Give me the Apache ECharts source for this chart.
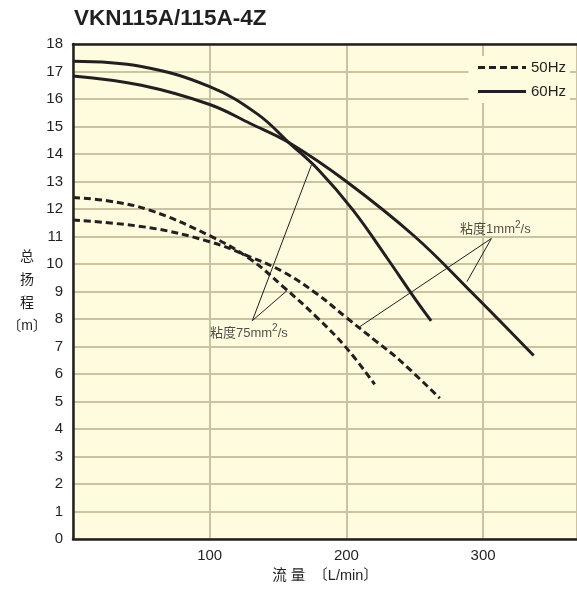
<!DOCTYPE html>
<html>
<head>
<meta charset="utf-8">
<script src="https://cdn.jsdelivr.net/npm/echarts@6/dist/echarts.min.js"></script>
<style>
html,body{margin:0;padding:0;background:#fff;overflow:hidden;}
#c{width:577px;height:591px;}
</style>
</head>
<body>
<div id="c"></div>
<script>
// ---- data ----
const title = 'VKN115A/115A-4Z';
const xTicks = [100, 200, 300];
const yTicks = [0,1,2,3,4,5,6,7,8,9,10,11,12,13,14,15,16,17,18];

// 60Hz, viscosity 75 mm2/s (steeper)
const q60v75 = [0, 50, 100, 135, 158.5, 180, 205, 230, 250, 262];
const h60v75 = [17.37, 17.18, 16.45, 15.45, 14.39, 13.4, 11.95, 10.2, 8.75, 7.93];
// 60Hz, viscosity 1 mm2/s
const q60v1 = [0, 50, 100, 130, 158.5, 200, 250, 291, 337];
const h60v1 = [16.84, 16.5, 15.8, 15.1, 14.4, 13.0, 11.0, 9.0, 6.67];
// 50Hz, viscosity 75 mm2/s
const q50v75 = [0, 25, 56, 100, 129, 153.6, 178, 200, 220.7];
const h50v75 = [12.42, 12.3, 11.96, 11.03, 10.2, 9.18, 8.08, 6.95, 5.62];
// 50Hz, viscosity 1 mm2/s
const q50v1 = [0, 56, 100, 129, 153.6, 178, 200, 222, 239, 268.3];
const h50v1 = [11.6, 11.32, 10.81, 10.27, 9.72, 8.93, 8.05, 7.18, 6.5, 5.12];

// annotation leader lines (end - apex - end), data coords
const ann75q = [174.4, 131.2, 156.5];
const ann75h = [13.6, 7.94, 9.03];
const ann1q = [209.2, 306.1, 288.2];
const ann1h = [7.7, 10.93, 9.36];
const annLabels = [
  {q: 100.2, h: 7.54, pre: '粘度75mm', sup: '2', post: '/s'},
  {q: 283.2, h: 11.31, pre: '粘度1mm', sup: '2', post: '/s'}
];

const legendNames = ['50Hz', '60Hz'];
const xName = '流 量  〔L/min〕';
const yName = '总\n扬\n程\n〔m〕';

// ---- chart ----
const zip = (a, b) => a.map((v, i) => [v, b[i]]);
const ink = '#231f20';
const FONT = "'Liberation Sans', 'Noto Sans CJK SC', sans-serif";
const X_MAX = 368.7;

const chart = echarts.init(document.getElementById('c'), null, {renderer: 'canvas'});

const curve = (name, q, h, dashed) => ({
  name, type: 'line', smooth: 0.4, symbol: 'none', showSymbol: false, silent: true,
  data: zip(q, h),
  lineStyle: {color: ink, width: 3, type: dashed ? [7, 4] : 'solid'},
  itemStyle: {color: ink},
  z: 5
});
const leader = (q, h) => ({
  type: 'line', symbol: 'none', silent: true, data: zip(q, h),
  lineStyle: {color: ink, width: 1}, z: 4
});

chart.setOption({
  animation: false,
  textStyle: {fontFamily: FONT},
  title: {
    text: title, left: 74, top: 8, padding: 0,
    textStyle: {fontFamily: FONT, fontSize: 22.5, fontWeight: 'bold', color: ink}
  },
  grid: {
    left: 73, right: 0, top: 44, bottom: 52,
    show: true, backgroundColor: '#fffbdf', borderWidth: 0
  },
  legend: {
    data: legendNames,
    orient: 'vertical', right: 7, top: 56,
    itemWidth: 48, itemHeight: 14, itemGap: 9,
    padding: [4, 4, 4, 8],
    backgroundColor: '#fffbdf',
    itemStyle: {opacity: 0},
    lineStyle: {width: 3},
    textStyle: {fontFamily: FONT, fontSize: 15, color: ink}
  },
  xAxis: [{
    type: 'value', min: 0, max: X_MAX, interval: 100,
    axisLine: {show: true, lineStyle: {color: ink, width: 2.5}},
    axisTick: {show: false},
    axisLabel: {
      fontFamily: FONT, fontSize: 15, color: ink, margin: 9,
      showMinLabel: false, showMaxLabel: false,
      formatter: v => (xTicks.indexOf(v) >= 0 ? String(v) : '')
    },
    splitLine: {show: true, lineStyle: {color: '#cbc2a2', width: 2}},
    name: xName, nameLocation: 'middle', nameGap: 30, nameMoveOverlap: false,
    nameTextStyle: {fontFamily: FONT, fontSize: 14.5, color: ink}
  }, {
    type: 'value', position: 'top', min: 0, max: X_MAX, interval: 100,
    axisLine: {show: true, lineStyle: {color: ink, width: 2.5}},
    axisTick: {show: false}, axisLabel: {show: false}, splitLine: {show: false}
  }],
  yAxis: {
    type: 'value', min: 0, max: 18, interval: 1,
    axisLine: {show: true, lineStyle: {color: ink, width: 2.5}},
    axisTick: {show: false},
    axisLabel: {
      fontFamily: FONT, fontSize: 15, color: ink, margin: 10,
      formatter: v => (yTicks.indexOf(v) >= 0 ? String(v) : '')
    },
    splitLine: {show: true, lineStyle: {color: '#cbc2a2', width: 2}},
    name: yName, nameLocation: 'middle', nameGap: 46, nameRotate: 0, nameMoveOverlap: false,
    nameTextStyle: {fontFamily: FONT, fontSize: 14, color: ink, lineHeight: 23, align: 'center', verticalAlign: 'middle', padding: [4, 0, 0, 0]}
  },
  series: [
    curve('50Hz', q50v75, h50v75, true),
    curve('50Hz', q50v1, h50v1, true),
    curve('60Hz', q60v75, h60v75, false),
    curve('60Hz', q60v1, h60v1, false),
    leader(ann75q, ann75h),
    leader(ann1q, ann1h),
    {
      type: 'scatter', symbolSize: 0, silent: true, z: 6,
      data: annLabels.map(a => ({value: [a.q, a.h], lbl: a})),
      label: {
        show: true, position: 'right', distance: 0,
        formatter: p => '{a|' + p.data.lbl.pre + '}{s|' + p.data.lbl.sup + '}{a|' + p.data.lbl.post + '}',
        rich: {
          a: {fontFamily: FONT, fontSize: 13, color: ink, lineHeight: 16, verticalAlign: 'bottom'},
          s: {fontFamily: FONT, fontSize: 10, color: ink, lineHeight: 16, verticalAlign: 'top'}
        }
      }
    }
  ]
});
</script>
</body>
</html>
